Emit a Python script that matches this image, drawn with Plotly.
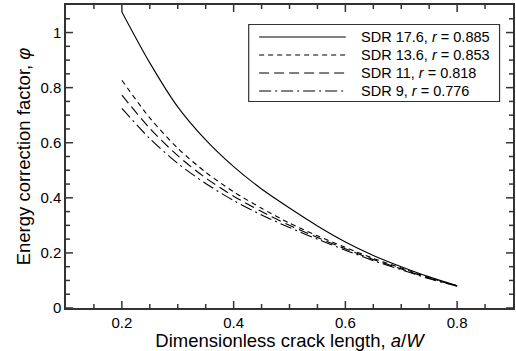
import plotly.graph_objects as go

# ---- data ----
a_over_w = [0.20, 0.25, 0.30, 0.35, 0.40, 0.45, 0.50, 0.55, 0.60, 0.65, 0.70, 0.75, 0.80]
phi_sdr176 = [1.075, 0.890, 0.730, 0.610, 0.513, 0.432, 0.363, 0.298, 0.240, 0.191, 0.150, 0.113, 0.081]
phi_sdr136 = [0.827, 0.690, 0.580, 0.493, 0.422, 0.362, 0.308, 0.262, 0.220, 0.180, 0.145, 0.110, 0.081]
phi_sdr11 = [0.773, 0.652, 0.553, 0.472, 0.406, 0.350, 0.300, 0.256, 0.215, 0.176, 0.142, 0.108, 0.080]
phi_sdr9 = [0.725, 0.615, 0.525, 0.452, 0.390, 0.338, 0.292, 0.250, 0.210, 0.172, 0.139, 0.106, 0.079]

sdr_labels = ["SDR 17.6", "SDR 13.6", "SDR 11", "SDR 9"]
r_values = ["0.885", "0.853", "0.818", "0.776"]
series = [phi_sdr176, phi_sdr136, phi_sdr11, phi_sdr9]
dashes = ["solid", "5px,4px", "10px,5px", "12px,4px,2px,4px"]

x_ticks = [0.2, 0.4, 0.6, 0.8]
x_minor_ticks = [0.15, 0.25, 0.3, 0.35, 0.45, 0.5, 0.55, 0.65, 0.7, 0.75, 0.85]
y_ticks = [0, 0.2, 0.4, 0.6, 0.8, 1.0]
y_ticktext = ["0", "0.2", "0.4", "0.6", "0.8", "1"]
y_minor_ticks = [0.05, 0.1, 0.15, 0.25, 0.3, 0.35, 0.45, 0.5, 0.55, 0.65, 0.7, 0.75,
                 0.85, 0.9, 0.95, 1.05]
x_range = [0.1, 0.9]
y_range = [0, 1.1]

FONT = "Liberation Sans, Arial, sans-serif"
W, H = 516, 351
ML, MR, MT, MB = 66, 1, 5, 43
AX = "#333333"
NONE = "rgba(0,0,0,0)"
MAJOR_LEN, MINOR_LEN = 7, 4

fig = go.Figure()
for ys, d, lab in zip(series, dashes, sdr_labels):
    fig.add_trace(go.Scatter(x=a_over_w, y=ys, mode="lines",
                             line=dict(color="black", width=1.1, dash=d, shape="spline", smoothing=0.8),
                             name=lab, showlegend=False))

pw = W - ML - MR
ph = H - MT - MB
def px(xp):
    return (xp - ML) / pw
def py(yp):
    return (H - MB - yp) / ph

# ---- inward tick marks on all four sides (positioned through the axes' scales) ----
tick_line = dict(color=AX, width=1.5)
for vals, ln in ((x_ticks, MAJOR_LEN), (x_minor_ticks, MINOR_LEN)):
    f = ln / ph
    for v in vals:
        fig.add_shape(type="line", xref="x", yref="paper", x0=v, x1=v, y0=0, y1=f,
                      line=tick_line, layer="above")
        fig.add_shape(type="line", xref="x", yref="paper", x0=v, x1=v, y0=1, y1=1 - f,
                      line=tick_line, layer="above")
for vals, ln in ((y_ticks, MAJOR_LEN), (y_minor_ticks, MINOR_LEN)):
    f = ln / pw
    for v in vals:
        fig.add_shape(type="line", xref="paper", yref="y", x0=0, x1=f, y0=v, y1=v,
                      line=tick_line, layer="above")
        fig.add_shape(type="line", xref="paper", yref="y", x0=1, x1=1 - f, y0=v, y1=v,
                      line=tick_line, layer="above")

# ---- custom legend (box, samples, text) in paper coordinates ----
fig.add_shape(type="rect", xref="paper", yref="paper",
              x0=px(249.5), x1=px(501.5), y0=py(101.5), y1=py(24.5),
              line=dict(color="#333333", width=1.2), fillcolor="white", layer="above")
row_y = [37.0, 55.0, 73.0, 91.0]
for yy, d, lab, rv in zip(row_y, dashes, sdr_labels, r_values):
    fig.add_shape(type="line", xref="paper", yref="paper",
                  x0=px(260), x1=px(347), y0=py(yy), y1=py(yy),
                  line=dict(color="black", width=1.1, dash=d), layer="above")
    fig.add_annotation(xref="paper", yref="paper", x=px(360), y=py(yy),
                       xanchor="left", yanchor="middle", showarrow=False,
                       text=f"{lab}, <i>r</i> = {rv}",
                       font=dict(family=FONT, size=14.5, color="black"))

fig.update_layout(
    width=W, height=H, margin=dict(l=ML, r=MR, t=MT, b=MB),
    plot_bgcolor="white", paper_bgcolor="white", showlegend=False,
    xaxis=dict(range=x_range, tickvals=x_ticks, ticks="",
               showline=True, linecolor=AX, linewidth=1.5, mirror=True,
               gridcolor=NONE, zerolinecolor=NONE,
               tickfont=dict(family=FONT, size=15, color="black"),
               title=dict(text="Dimensionless crack length, <i>a</i>/<i>W</i>",
                          font=dict(family=FONT, size=18.5, color="black"), standoff=3)),
    yaxis=dict(range=y_range, tickvals=y_ticks, ticktext=y_ticktext, ticks="",
               showline=True, linecolor=AX, linewidth=1.5, mirror=True,
               gridcolor=NONE, zerolinecolor=NONE,
               tickfont=dict(family=FONT, size=15, color="black"),
               title=dict(text="Energy correction factor, <i>φ</i>",
                          font=dict(family=FONT, size=18.5, color="black"), standoff=5)),
)

fig.write_html("out.html")
